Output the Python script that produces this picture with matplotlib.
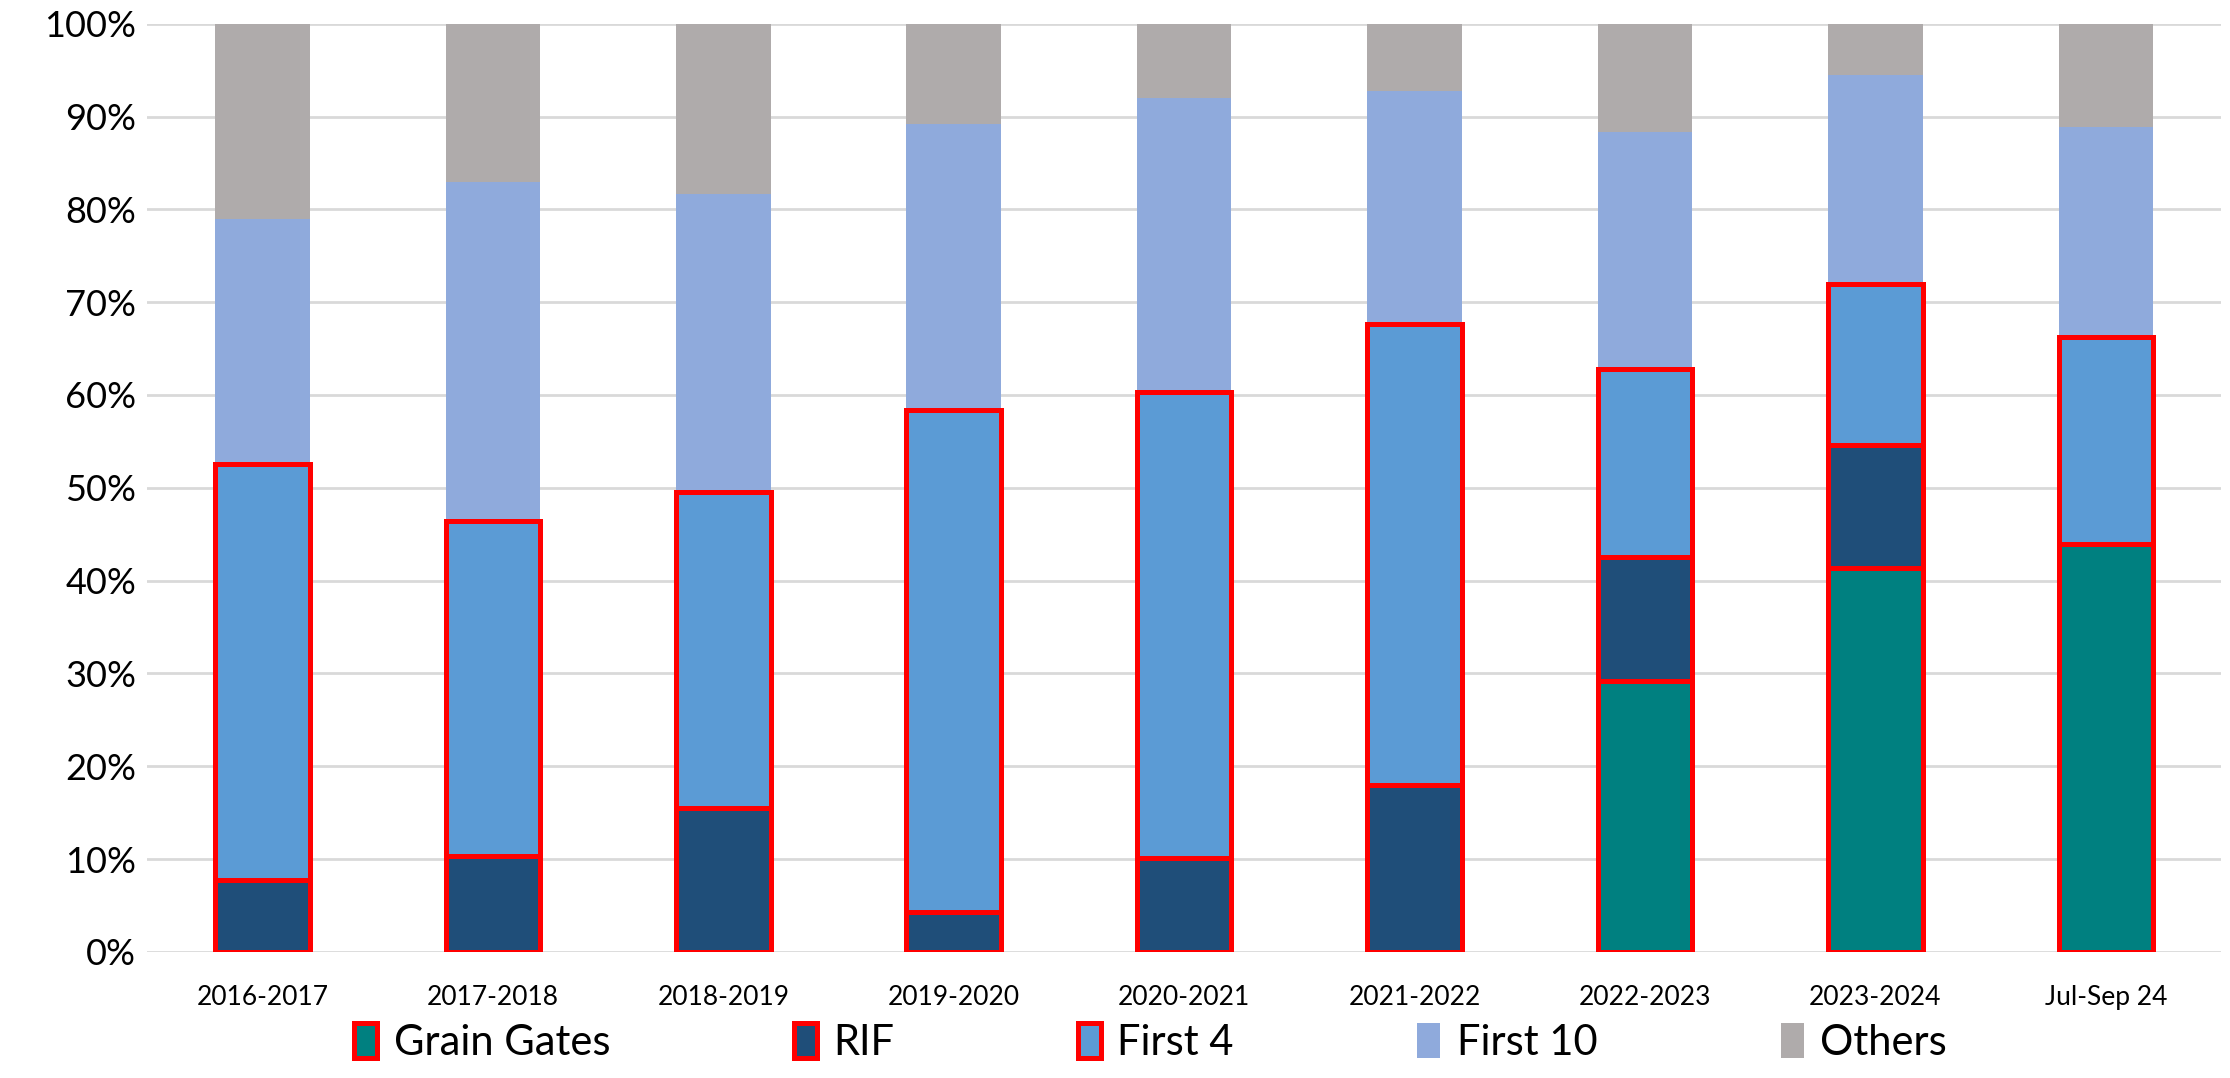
import numpy as np
import matplotlib.pyplot as plt
from matplotlib.ticker import PercentFormatter

plt.rcParams['font.family'] = ['Lato', 'DejaVu Sans']

# Share of each group per period (%)
periods = ['2016-2017', '2017-2018', '2018-2019', '2019-2020', '2020-2021',
           '2021-2022', '2022-2023', '2023-2024', 'Jul-Sep 24']
grain_gates = [0, 0, 0, 0, 0, 0, 29.2, 41.4, 43.9]
rif = [7.7, 10.3, 15.5, 4.3, 10.1, 18.0, 13.3, 13.2, 0]
first_4 = [44.9, 36.1, 34.1, 54.1, 50.2, 49.6, 20.3, 17.4, 22.4]
first_10 = [26.4, 36.6, 32.0, 30.8, 31.7, 25.2, 25.5, 22.5, 22.6]
others = [21.0, 17.0, 18.4, 10.8, 8.0, 7.2, 11.7, 5.5, 11.1]

series = [
    ('Grain Gates', grain_gates, '#008080', True),
    ('RIF', rif, '#1F4E79', True),
    ('First 4', first_4, '#5B9BD5', True),
    ('First 10', first_10, '#8FAADC', False),
    ('Others', others, '#AFABAB', False),
]

fig = plt.figure(figsize=(22.3, 10.78), dpi=100)
ax = fig.add_axes([0.066, 0.117, 0.930, 0.861])

x = np.arange(len(periods))
bottom = np.zeros(len(periods))
for name, vals, col, outlined in series:
    vals = np.array(vals, dtype=float)
    if outlined:
        # skip zero-height segments so they don't draw a red line
        mask = vals > 0
        ax.bar(x[mask], vals[mask], 0.41, bottom=bottom[mask], color=col,
               edgecolor='#FF0000', linewidth=3.6, zorder=3)
        ax.bar([np.nan], [0], color=col, edgecolor='#FF0000', linewidth=3.6, label=name)
    else:
        ax.bar(x, vals, 0.41, bottom=bottom, color=col, zorder=2, label=name)
    bottom += vals

ax.set_xlim(-0.5, len(periods) - 0.5)
ax.set_ylim(0, 100)
ax.set_yticks(np.arange(0, 101, 10))
ax.yaxis.set_major_formatter(PercentFormatter(decimals=0))
ax.set_xticks(x)
ax.set_xticklabels(periods, fontsize=19)
ax.tick_params(axis='y', labelsize=26, length=0, pad=8)
ax.tick_params(axis='x', length=0, pad=24)
ax.grid(axis='y', color='#D9D9D9', linewidth=2, zorder=0)
ax.set_axisbelow(True)
for s in ax.spines.values():
    s.set_visible(False)

fig.legend(loc='center', bbox_to_anchor=(0.516, 0.033), ncol=5, frameon=False,
           fontsize=30, handlelength=0.55, handleheight=0.9, handletextpad=0.4,
           columnspacing=4.4)

fig.savefig('out.png', dpi=100)
